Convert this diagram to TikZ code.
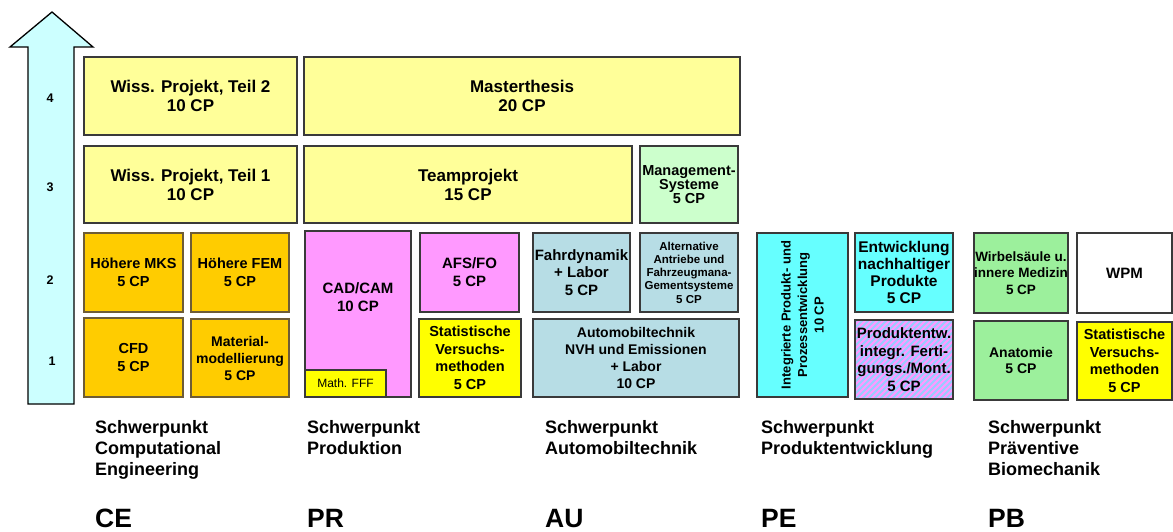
\documentclass[tikz,border=0pt]{standalone}
\usepackage{fontspec}
\setmainfont{Liberation Sans}
\definecolor{boxline}{HTML}{3A3A3A}
\definecolor{orangeline}{HTML}{6E5C36}
\definecolor{paleyellow}{HTML}{FFFF99}
\definecolor{gold}{HTML}{FFCC00}
\definecolor{pinkbox}{HTML}{FF99FF}
\definecolor{brightyellow}{HTML}{FFFF00}
\definecolor{steelbox}{HTML}{B7DDE5}
\definecolor{cyanbox}{HTML}{66FFFF}
\definecolor{mintbox}{HTML}{CCFFCC}
\definecolor{greenbox}{HTML}{9CF09C}
\definecolor{arrowfill}{HTML}{CCFFFF}
\definecolor{hatchblue}{HTML}{99CCFF}
% box from corner (x1,y1) to corner (x2,y2), y pointing down
\newcommand\modbox[7]{%
  \node[box,#2,minimum width={(#5)-(#3)},minimum height={(#6)-(#4)}]
    (#1) at ({((#3)+(#5))/2},{((#4)+(#6))/2}) {#7};}
\begin{document}
\begin{tikzpicture}[x=1pt,y=-1pt,
  box/.style={draw=boxline,line width=1.3pt,inner sep=0pt,outer sep=0pt,align=center,
    font=\bfseries\fontsize{15}{17.5}\selectfont},
  bigtxt/.style={font=\bfseries\fontsize{17}{19}\selectfont},
  midtxt/.style={font=\bfseries\fontsize{14.5}{17.5}\selectfont},
  smalltxt/.style={font=\bfseries\fontsize{11.5}{13.2}\selectfont},
  orangebox/.style={fill=gold,draw=orangeline},
  level/.style={font=\bfseries\fontsize{12.5}{14}\selectfont,inner sep=0pt},
  track/.style={anchor=north west,align=left,inner sep=0pt,
    font=\bfseries\fontsize{18}{21}\selectfont},
  abbr/.style={anchor=base west,inner sep=0pt,font=\bfseries\fontsize{26.5}{30}\selectfont}]
\useasboundingbox (0,0) rectangle (1173,532);
\fill[white] (0,0) rectangle (1173,532);

% semester arrow
\draw[fill=arrowfill,line width=1.3pt,line join=miter]
  (28,404) -- (28,47) -- (10,47) -- (52,12) -- (93,47) -- (74,47) -- (74,404) -- cycle;
\node[level] (lvl4) at (50,98) {4};
\node[level] (lvl3) at (50,187) {3};
\node[level] (lvl2) at (50,280) {2};
\node[level] (lvl1) at (52,361) {1};

% Computational Engineering
\modbox{wiss2}{fill=paleyellow,bigtxt}{84}{57}{297}{135}{Wiss. Projekt, Teil 2\\10 CP}
\modbox{wiss1}{fill=paleyellow,bigtxt}{84}{146}{297}{223}{Wiss. Projekt, Teil 1\\10 CP}
\modbox{mks}{orangebox,midtxt}{84}{233}{183}{312}{Höhere MKS\\5 CP}
\modbox{fem}{orangebox,midtxt}{191}{233}{289}{312}{Höhere FEM\\5 CP}
\modbox{cfd}{orangebox,midtxt}{84}{318}{183}{397}{CFD\\5 CP}
\modbox{mat}{orangebox,font=\bfseries\fontsize{14}{17}\selectfont}{191}{319}{289}{397}{Material-\\modellierung\\5 CP}

% Produktion / Automobiltechnik
\modbox{master}{fill=paleyellow,bigtxt}{304}{57}{740}{135}{Masterthesis\\20 CP}
\modbox{team}{fill=paleyellow,bigtxt}{304}{146}{632}{223}{Teamprojekt\\15 CP}
\modbox{mgmt}{fill=mintbox,font=\bfseries\fontsize{14.5}{14}\selectfont}{640}{146}{738}{223}{Management-\\Systeme\\5 CP}
\modbox{cadcam}{fill=pinkbox}{305}{231}{411}{397}{}
\node[align=center,font=\bfseries\fontsize{15}{18}\selectfont] (cadcamlbl) at (358,297) {CAD/CAM\\10 CP};
\modbox{mathfff}{fill=brightyellow,font=\fontsize{12}{14}\selectfont}{305}{370}{386}{397}{Math. FFF}
\modbox{afs}{fill=pinkbox,font=\bfseries\fontsize{15}{18}\selectfont}{420}{233}{519}{312}{AFS/FO\\5 CP}
\modbox{stat1}{fill=brightyellow,midtxt}{419}{319}{521}{397}{Statistische\\Versuchs-\\methoden\\5 CP}
\modbox{fahr}{fill=steelbox,font=\bfseries\fontsize{15}{17.5}\selectfont}{533}{233}{630}{312}{Fahrdynamik\\+ Labor\\5 CP}
\modbox{alt}{fill=steelbox,smalltxt}{640}{233}{738}{312}{Alternative\\Antriebe und\\Fahrzeugmana-\\Gementsysteme\\5 CP}
\modbox{auto}{fill=steelbox,font=\bfseries\fontsize{14}{17}\selectfont}{533}{319}{739}{397}{Automobiltechnik\\NVH und Emissionen\\+ Labor\\10 CP}

% Produktentwicklung
\node[box,fill=cyanbox,rotate=90,minimum width=164,minimum height=91,
  font=\bfseries\fontsize{13}{16.5}\selectfont] (ipp) at (802.5,315)
  {Integrierte Produkt- und\\Prozessentwicklung\\10 CP};
\modbox{enw}{fill=cyanbox,font=\bfseries\fontsize{15.5}{17.3}\selectfont}{855}{233}{953}{312}{Entwicklung\\nachhaltiger\\Produkte\\5 CP}
% striped module shared by two tracks
\fill[pinkbox] (855,320) rectangle (953,399);
\begin{scope}
  \clip (855,320) rectangle (953,399);
  \foreach \s in {-84,-78,...,102}
    \draw[hatchblue,line width=2.1pt] (855+\s,400) -- (935+\s,320);
\end{scope}
\modbox{prodm}{font=\bfseries\fontsize{15}{17.7}\selectfont}{855}{320}{953}{399}{Produktentw.\\integr. Ferti-\\gungs./Mont.\\5 CP}

% Praeventive Biomechanik
\modbox{wirb}{fill=greenbox,font=\bfseries\fontsize{13.5}{16.7}\selectfont}{974}{233}{1068}{313}{Wirbelsäule u.\\innere Medizin\\5 CP}
\modbox{wpm}{fill=white}{1077}{233}{1172}{313}{WPM}
\modbox{anat}{fill=greenbox,font=\bfseries\fontsize{14}{16.7}\selectfont}{974}{321}{1068}{400}{Anatomie\\5 CP}
\modbox{stat2}{fill=brightyellow,midtxt}{1077}{322}{1172}{400}{Statistische\\Versuchs-\\methoden\\5 CP}

% track captions
\node[track] (trce) at (95,420) {Schwerpunkt\\Computational\\Engineering};
\node[track] (trpr) at (307,420) {Schwerpunkt\\Produktion};
\node[track] (trau) at (545,420) {Schwerpunkt\\Automobiltechnik};
\node[track] (trpe) at (761,420) {Schwerpunkt\\Produktentwicklung};
\node[track] (trpb) at (988,420) {Schwerpunkt\\Präventive\\Biomechanik};
\node[abbr] (abce) at (95,527) {CE};
\node[abbr] (abpr) at (307,527) {PR};
\node[abbr] (abau) at (545,527) {AU};
\node[abbr] (abpe) at (761,527) {PE};
\node[abbr] (abpb) at (988,527) {PB};
\end{tikzpicture}
\end{document}
